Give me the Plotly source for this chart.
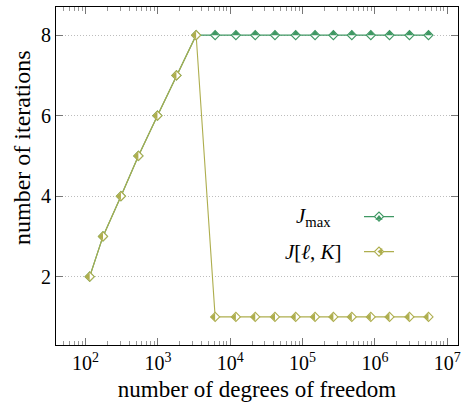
import plotly.graph_objects as go

# degrees of freedom per refinement level
dofs = [114, 174, 308, 537, 984, 1803, 3374, 6180, 11960, 22140, 41500,
        80200, 148600, 266300, 478800, 877000, 1590000, 3000000, 5500000]
# maximal number of iterations allowed
j_max = [2, 3, 4, 5, 6, 7, 8, 8, 8, 8, 8, 8, 8, 8, 8, 8, 8, 8, 8]
# iterations actually needed on each level
j_lk = [2, 3, 4, 5, 6, 7, 8, 1, 1, 1, 1, 1, 1, 1, 1, 1, 1, 1, 1]

x_tick_vals = [1e2, 1e3, 1e4, 1e5, 1e6, 1e7]
x_tick_text = ["10<sup>2</sup>", "10<sup>3</sup>", "10<sup>4</sup>",
               "10<sup>5</sup>", "10<sup>6</sup>", "10<sup>7</sup>"]
y_tick_vals = [2, 4, 6, 8]
series_labels = ["<i>J</i><sub>max</sub>", "<i>J</i>[<i>ℓ</i>, <i>K</i>]"]
x_title = "number of degrees of freedom"
y_title = "number of iterations"

GREEN = "#3f9863"
OLIVE = "#aeae4e"
FONT = "Liberation Serif"

W, H = 463, 402
ML, MR, MT, MB = 56, 5, 7, 57
PW, PH = W - ML - MR, H - MT - MB

DIAMOND = 7
HALF = 6.4  # filled half of each diamond


def px_x(p):
    return (p - ML) / PW


def px_y(p):
    return (H - MB - p) / PH


fig = go.Figure()

# J_max: open diamond + top half filled
fig.add_trace(go.Scatter(
    x=dofs, y=j_max, mode="lines+markers", name="", legend="legend",
    line=dict(color=GREEN, width=1.2),
    marker=dict(symbol="diamond", size=DIAMOND, color="white",
                line=dict(color=GREEN, width=1.1)),
))
fig.add_trace(go.Scatter(
    x=dofs, y=j_max, mode="markers", name="", legend="legend2",
    marker=dict(symbol="triangle-down", size=HALF, color=GREEN,
                angle=180, standoff=HALF / 4, line=dict(width=0)),
))
# J[l, K]: open diamond + left half filled
fig.add_trace(go.Scatter(
    x=dofs, y=j_lk, mode="lines+markers", name="", legend="legend3",
    line=dict(color=OLIVE, width=1.1),
    marker=dict(symbol="diamond", size=DIAMOND, color="white",
                line=dict(color=OLIVE, width=1.1)),
))
fig.add_trace(go.Scatter(
    x=dofs, y=j_lk, mode="markers", name="", legend="legend4",
    marker=dict(symbol="triangle-down", size=HALF, color=OLIVE,
                angle=90, standoff=HALF / 4, line=dict(width=0)),
))

leg_x = px_x(359)
row1, row2 = px_y(216.7), px_y(251.7)
leg_common = dict(x=leg_x, xanchor="left", yanchor="middle",
                  bgcolor="rgba(0,0,0,0)", borderwidth=0,
                  font=dict(family=FONT, size=16))

fig.update_layout(
    width=W, height=H,
    margin=dict(l=ML, r=MR, t=MT, b=MB, pad=0, autoexpand=False),
    paper_bgcolor="white", plot_bgcolor="white",
    font=dict(family=FONT, size=20, color="black"),
    showlegend=True,
    legend=dict(y=row1, **leg_common),
    legend2=dict(y=row1, **leg_common),
    legend3=dict(y=row2, **leg_common),
    legend4=dict(y=row2, **leg_common),
    xaxis=dict(
        type="log", range=[1.591, 7.148], automargin=False,
        tickmode="array", tickvals=x_tick_vals, ticktext=x_tick_text,
        ticks="inside", ticklen=7, tickwidth=1, tickcolor="#777",
        minor=dict(dtick="D1", ticks="inside", ticklen=4, tickcolor="#999",
                   tickwidth=1, showgrid=False),
        showline=True, linecolor="black", linewidth=1, mirror="ticks",
        showgrid=False, zeroline=False,
        tickfont=dict(family=FONT, size=20),
        title=dict(text=x_title, font=dict(family=FONT, size=23), standoff=13),
    ),
    yaxis=dict(
        range=[0.302, 8.70], automargin=False,
        tickmode="array", tickvals=y_tick_vals,
        ticks="inside", ticklen=7, tickwidth=1, tickcolor="#777",
        showline=True, linecolor="black", linewidth=1, mirror="ticks",
        showgrid=True, gridcolor="#bdbdbd", griddash="1px,2px", gridwidth=1,
        zeroline=False,
        tickfont=dict(family=FONT, size=20),
    ),
)

# vertical axis caption
fig.add_annotation(
    x=px_x(22), y=px_y(148), xref="paper", yref="paper",
    text=y_title, textangle=-90, showarrow=False,
    xanchor="center", yanchor="middle",
    font=dict(family=FONT, size=24, color="black"),
)

for label, py in zip(series_labels, (216.7, 251.7)):
    fig.add_annotation(
        x=px_x(313), y=px_y(py), xref="paper", yref="paper",
        text=label, showarrow=False, xanchor="center", yanchor="middle",
        font=dict(family=FONT, size=21, color="black"),
    )

fig.write_html("out.html")
